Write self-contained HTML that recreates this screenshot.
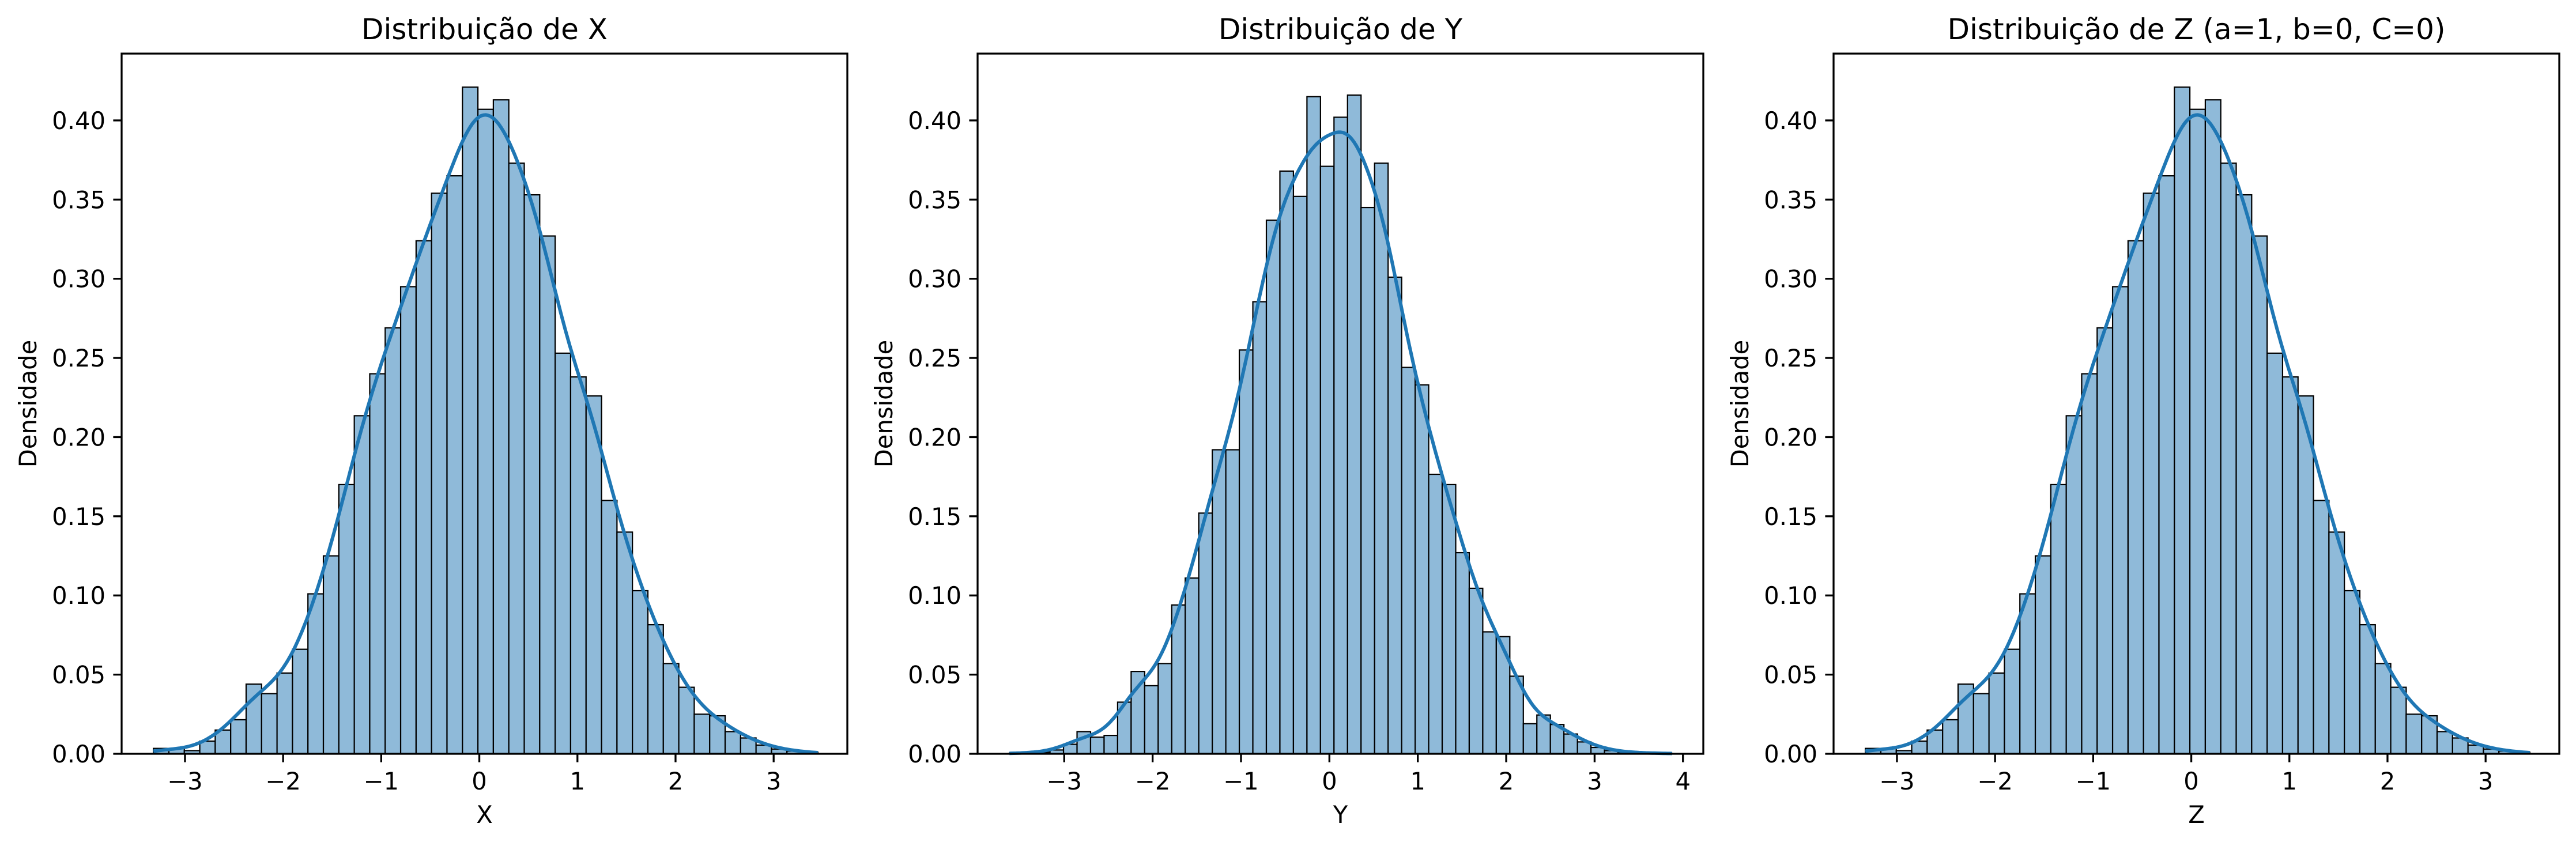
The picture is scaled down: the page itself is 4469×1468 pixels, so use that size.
<!DOCTYPE html>
<html><head><meta charset="utf-8">
<style>
html,body{margin:0;padding:0;background:#fff;}
svg{display:block;font-family:"DejaVu Sans","Liberation Sans",sans-serif;}
</style></head>
<body>
<svg id="fig" width="4469" height="1468" viewBox="0 0 4469 1468" xmlns="http://www.w3.org/2000/svg"></svg>
<script>
// ---- data ----
const xBinStart = -3.322;
const xBinWidth = 0.1575;
const xDensity = [0.0034,0.0034,0.002,0.008,0.015,0.0215,0.044,0.038,0.051,0.066,0.101,0.125,0.170,0.2135,0.240,0.269,0.295,0.324,0.354,0.365,0.421,0.407,0.413,0.373,0.353,0.327,0.253,0.238,0.226,0.160,0.140,0.103,0.0815,0.057,0.042,0.025,0.024,0.014,0.010,0.0055,0.003,0.0017,0.001];
const yBinStart = -3.62;
const yBinWidth = 0.153;
const yDensity = [0.0005,0.0005,0.001,0.0024,0.006,0.014,0.0105,0.0116,0.0326,0.052,0.043,0.057,0.094,0.111,0.152,0.192,0.192,0.255,0.2855,0.337,0.368,0.352,0.415,0.371,0.402,0.416,0.345,0.373,0.301,0.244,0.233,0.1765,0.170,0.127,0.1045,0.077,0.074,0.049,0.019,0.0245,0.0185,0.0125,0.0075,0.004,0.002,0.001,0.0006,0.0004,0.0003];
const zBinStart = -3.322;
const zBinWidth = 0.1575;
const zDensity = xDensity.slice();
const yTickValues = [0.00,0.05,0.10,0.15,0.20,0.25,0.30,0.35,0.40];
const yTickLabels = ["0.00","0.05","0.10","0.15","0.20","0.25","0.30","0.35","0.40"];
const xTicksXZ = [-3,-2,-1,0,1,2,3];
const xTicksY = [-3,-2,-1,0,1,2,3,4];
const titles = ["Distribuição de X","Distribuição de Y","Distribuição de Z (a=1, b=0, C=0)"];
const xLabels = ["X","Y","Z"];

const NS="http://www.w3.org/2000/svg";
const svg=document.getElementById('fig');
function mk(tag,attrs,parent){const e=document.createElementNS(NS,tag);for(const k in attrs)e.setAttribute(k,attrs[k]);(parent||svg).appendChild(e);return e;}

const panels=[
 {left:211,dens:xDensity,b0:xBinStart,bw:xBinWidth,xmin:-3.646,xmax:3.751,ticks:xTicksXZ},
 {left:1696,dens:yDensity,b0:yBinStart,bw:yBinWidth,xmin:-3.98,xmax:4.23,ticks:xTicksY},
 {left:3181,dens:zDensity,b0:zBinStart,bw:zBinWidth,xmin:-3.646,xmax:3.751,ticks:xTicksXZ}
];
const W=1259, axTop=93, axBottom=1308, ymax=0.4422;
function minus(v){return v<0?'\u2212'+Math.abs(v):String(v);}

panels.forEach((p,i)=>{
  const g=mk('g',{});
  
  
  const sx=v=>p.left+(v-p.xmin)/(p.xmax-p.xmin)*W;
  const sy=v=>axBottom-v/ymax*(axBottom-axTop);
  p.dens.forEach((d,j)=>{
    const x0=sx(p.b0+j*p.bw), x1=sx(p.b0+(j+1)*p.bw);
    const r=mk('rect',{x:x0,y:sy(d),width:x1-x0,height:axBottom-sy(d),fill:'#8fbad9',stroke:'#000','stroke-width':2.2},g);
    
    
  });
  const n=p.dens.length, lo=p.b0, hi=p.b0+n*p.bw, kbw=0.19;
  let pts=[];
  for(let k=0;k<=300;k++){
    const x=lo+(hi-lo)*k/300;
    let s=0;
    p.dens.forEach((d,j)=>{const c=p.b0+(j+0.5)*p.bw;const z=(x-c)/kbw;s+=d*p.bw*Math.exp(-0.5*z*z)/(kbw*Math.sqrt(2*Math.PI));});
    pts.push(sx(x).toFixed(1)+','+sy(s).toFixed(1));
  }
  const kde=mk('polyline',{points:pts.join(' '),fill:'none',stroke:'#1f77b4','stroke-width':6,'stroke-linejoin':'round'},g);
  
  
  const fr=mk('rect',{x:p.left,y:axTop,width:W,height:axBottom-axTop,fill:'none',stroke:'#000','stroke-width':3.3},g);
  
  
  yTickValues.forEach((v,j)=>{
    const y=sy(v);
    mk('line',{x1:p.left-14.6,x2:p.left,y1:y,y2:y,stroke:'#000','stroke-width':3.3},g);
    const t=mk('text',{x:p.left-28,y:y+15,'text-anchor':'end','font-size':41.7,fill:'#000'},g);
    t.textContent=yTickLabels[j];
    
    
  });
  p.ticks.forEach(v=>{
    const x=sx(v);
    mk('line',{x1:x,x2:x,y1:axBottom,y2:axBottom+14.6,stroke:'#000','stroke-width':3.3},g);
    const t=mk('text',{x:x,y:axBottom+62,'text-anchor':'middle','font-size':41.7,fill:'#000'},g);
    t.textContent=minus(v);
    
    
  });
  const tt=mk('text',{x:p.left+W/2,y:68,'text-anchor':'middle','font-size':50,fill:'#000'},g);
  tt.textContent=titles[i];
  
  
  const xl=mk('text',{x:p.left+W/2,y:1428,'text-anchor':'middle','font-size':41.7,fill:'#000'},g);
  xl.textContent=xLabels[i];
  
  
  const cy=(axTop+axBottom)/2, cx=p.left-148;
  const yl=mk('text',{x:cx,y:cy,'text-anchor':'middle','font-size':41.7,fill:'#000',transform:'rotate(-90 '+cx+' '+cy+')'},g);
  yl.textContent='Densidade';
  
  
});
</script>
</body></html>
